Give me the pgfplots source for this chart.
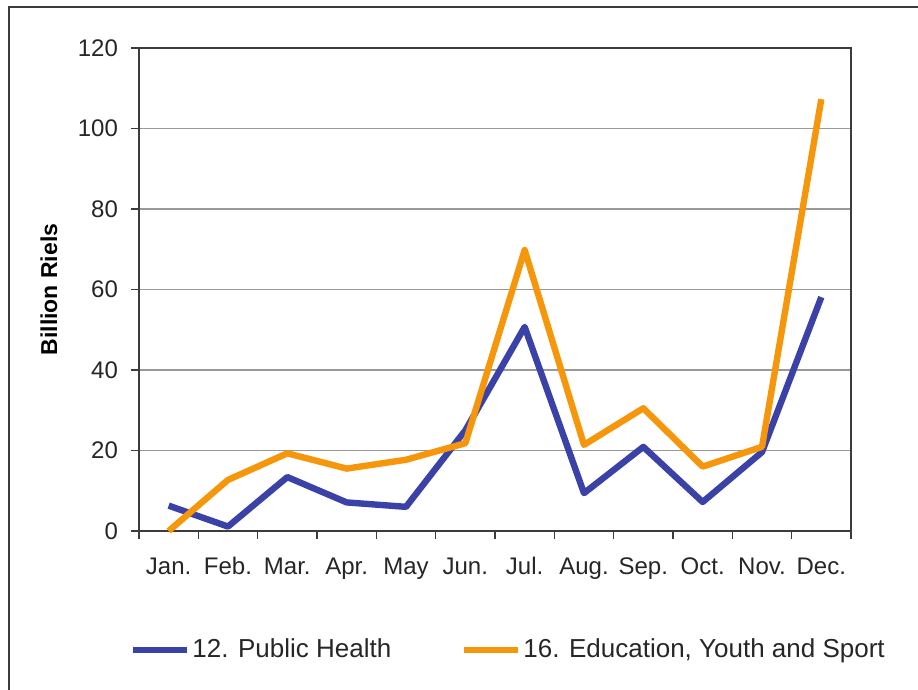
\documentclass[border=0pt]{standalone}
\usepackage{pgfplots}
\pgfplotsset{compat=1.18}
\usepackage{fontspec}
\setmainfont{Liberation Sans}

\definecolor{healthblue}{RGB}{58,66,168}
\definecolor{eduorange}{RGB}{246,150,10}
\definecolor{framegray}{RGB}{60,60,60}

\begin{document}
\begin{tikzpicture}
  \useasboundingbox (-69.5pt,-79.5pt) rectangle (389.5pt,265.5pt);
  \begin{axis}[
      scale only axis,
      width=356pt, height=241.5pt,
      xmin=-0.5, xmax=11.5,
      ymin=0, ymax=120,
      ytick={0,20,...,120},
      xtick={0,...,11},
      xticklabels={Jan.,Feb.,Mar.,Apr.,May,Jun.,Jul.,Aug.,Sep.,Oct.,Nov.,Dec.},
      minor xtick={-0.5,0.5,...,11.5},
      major x tick style={draw=none},
      xtick pos=bottom, ytick pos=left,
      tick align=outside,
      major tick length=4pt, minor tick length=4pt,
      tick style={framegray, line width=0.6pt},
      ymajorgrids,
      grid style={gray!80, line width=0.6pt},
      axis line style={framegray, line width=1pt},
      clip=false,
      /pgf/number format/assume math mode=true,
      ticklabel style={font=\fontsize{12}{14}\selectfont, text=black!85},
      xticklabel style={anchor=base, yshift=-18pt},
      yticklabel style={xshift=-3pt},
      ylabel={Billion Riels},
      every axis y label/.style={at={(axis description cs:-0.1264,0.5)}, rotate=90, anchor=center,
        font=\fontsize{11.5}{13}\bfseries\selectfont},
      legend columns=2,
      legend style={at={(0,0)}, anchor=west, xshift=-4.5pt, yshift=-59.5pt,
        draw=none, fill=none, inner sep=0pt,
        font=\fontsize{13}{15}\selectfont, text=black!85,
        /tikz/every even column/.append style={column sep=34pt},
        nodes={inner xsep=1pt}},
      legend image code/.code={\draw[#1, line width=3pt] (0pt,0pt) -- (27pt,0pt);},
    ]
    \addplot[healthblue, line width=3.2pt, line join=round] coordinates {
      (0,6.3) (1,1.1) (2,13.4) (3,7.1) (4,6.0) (5,25.0)
      (6,50.7) (7,9.4) (8,20.9) (9,7.2) (10,19.6) (11,58.1)};
    \addlegendentry{12. Public Health}
    \addplot[eduorange, line width=3.2pt, line join=round] coordinates {
      (0,0.0) (1,12.7) (2,19.3) (3,15.5) (4,17.7) (5,21.8)
      (6,69.8) (7,21.4) (8,30.5) (9,16.0) (10,20.9) (11,107.3)};
    \addlegendentry{16. Education, Youth and Sport}
  \end{axis}
  \draw[framegray, line width=1pt] (-65pt,-79.5pt) -- (-65pt,262pt) -- (389.5pt,262pt);
\end{tikzpicture}
\end{document}
